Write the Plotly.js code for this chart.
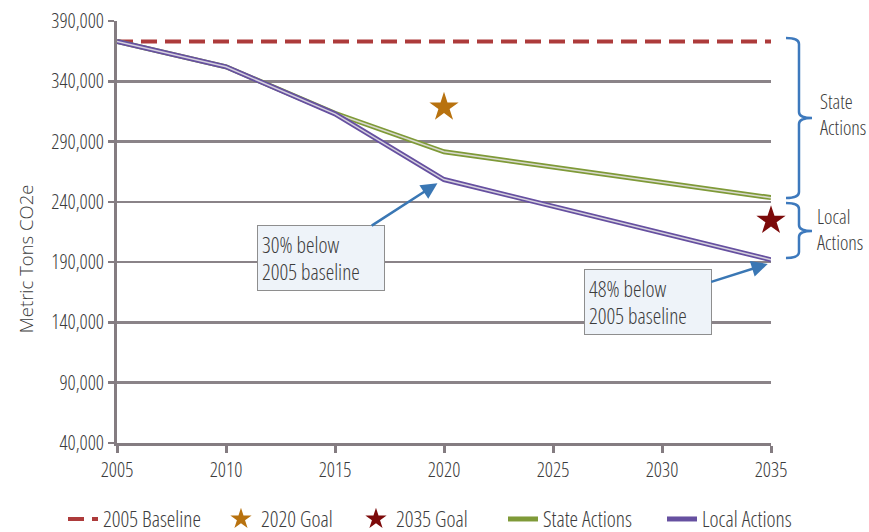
<!DOCTYPE html>
<html><head><meta charset="utf-8">
<script src="https://cdn.plot.ly/plotly-3.0.1.min.js"></script>
<style>html,body{margin:0;padding:0;background:#fff;}#chart{width:869px;height:532px;}
text{font-stretch:75% !important;}
.annotation[data-index="0"] text{font-stretch:100% !important;}</style>
</head><body><div id="chart"></div>
<script>
// ---- data ----
const years = [2005, 2010, 2015, 2020, 2025, 2030, 2035];
const baselineYears = [2005, 2035];
const baselineValues = [373000, 373000];
const stateYears = [2005, 2010, 2015, 2020, 2035];
const stateValues = [373000, 352000, 313500, 281500, 243500];
const localYears = [2005, 2010, 2015, 2020, 2035];
const localValues = [373000, 352000, 313000, 258500, 192000];
const goal2020Year = [2020];
const goal2020Value = [318500];
const goal2035Year = [2035];
const goal2035Value = [224500];
const yTicks = [40000, 90000, 140000, 190000, 240000, 290000, 340000, 390000];
const seriesNames = ['2005 Baseline', '2020 Goal', '2035 Goal', 'State Actions', 'Local Actions'];
const yTitle = 'Metric Tons CO2e';

const FONT = 'Open Sans, Roboto, sans-serif';
const TXT = '#3c3c3c';
const W = 300;

const traces = [
  {x: baselineYears, y: baselineValues, name: seriesNames[0], mode: 'lines',
   line: {color: '#ad3b3b', width: 4, dash: '16px,8px'}, legendwidth: 113},
  {x: goal2020Year, y: goal2020Value, name: seriesNames[1], mode: 'markers', cliponaxis: false,
   marker: {symbol: 'star', size: 22, color: '#b8720f'}, legendwidth: 90},
  {x: goal2035Year, y: goal2035Value, name: seriesNames[2], mode: 'markers', cliponaxis: false,
   marker: {symbol: 'star', size: 22, color: '#7c0a0a'}, legendwidth: 102},
  {x: stateYears, y: stateValues, name: seriesNames[3], mode: 'lines',
   line: {color: '#7f9a38', width: 5}, legendwidth: 114},
  {x: stateYears, y: stateValues, mode: 'lines', showlegend: false, hoverinfo: 'skip',
   line: {color: '#d9d9cf', width: 1.5}},
  {x: localYears, y: localValues, name: seriesNames[4], mode: 'lines',
   line: {color: '#6650a0', width: 5}, legendwidth: 90},
  {x: localYears, y: localValues, mode: 'lines', showlegend: false, hoverinfo: 'skip',
   line: {color: '#d6d2de', width: 1.5}}
];

// pixel -> paper helpers for decorations (plot area 117..771 x, 21..443 y)
const L = 117, R = 771, T = 21, B = 443;
const px = v => +((v - L) / (R - L)).toFixed(4);
const py = v => +((B - v) / (B - T)).toFixed(4);
function brace(x0, xs, xm, y0, ym, y1) {
  const r = 6;
  return `M ${px(x0)} ${py(y0)} Q ${px(xs)} ${py(y0)} ${px(xs)} ${py(y0 + r)} ` +
         `L ${px(xs)} ${py(ym - r)} Q ${px(xs)} ${py(ym)} ${px(xm)} ${py(ym)} ` +
         `Q ${px(xs)} ${py(ym)} ${px(xs)} ${py(ym + r)} ` +
         `L ${px(xs)} ${py(y1 - r)} Q ${px(xs)} ${py(y1)} ${px(x0)} ${py(y1)}`;
}
const boxFont = {family: FONT, size: 21.5, color: TXT, weight: W};
const sideFont = {family: FONT, size: 20, color: TXT, weight: W};

const layout = {
  width: 869, height: 532,
  margin: {l: 117, r: 98, t: 21, b: 89, autoexpand: false},
  paper_bgcolor: '#ffffff', plot_bgcolor: '#ffffff',
  font: {family: FONT, color: TXT, size: 18, weight: W},
  showlegend: true,
  legend: {orientation: 'h', x: px(63), xanchor: 'left', y: py(519), yanchor: 'middle',
           font: {family: FONT, size: 21.5, color: TXT, weight: W}, traceorder: 'normal',
           itemwidth: 30, tracegroupgap: 0, borderwidth: 0},
  xaxis: {range: [2005, 2035], tickvals: years, ticktext: years.map(String),
          showgrid: false, zeroline: false, showline: true, linecolor: '#847c81', linewidth: 3,
          ticks: 'outside', ticklen: 7, tickwidth: 3, tickcolor: '#847c81',
          tickfont: {family: FONT, size: 20, color: TXT, weight: W}},
  yaxis: {range: [40000, 390000], tickvals: yTicks, ticktext: yTicks.map(v => v.toLocaleString('en-US')),
          showgrid: true, gridcolor: '#8a8388', gridwidth: 2.5, zeroline: false,
          showline: true, linecolor: '#847c81', linewidth: 3,
          ticks: 'outside', ticklen: 6, tickwidth: 2.5, tickcolor: '#847c81',
          tickfont: {family: FONT, size: 20, color: TXT, weight: W}},
  shapes: [
    {type: 'path', xref: 'paper', yref: 'paper', path: brace(786, 799, 812, 38, 118, 198),
     line: {color: '#3d79bd', width: 2.5}},
    {type: 'path', xref: 'paper', yref: 'paper', path: brace(786, 799, 812, 203, 231, 258),
     line: {color: '#3d79bd', width: 2.5}}
  ],
  annotations: [
    {xref: 'paper', yref: 'paper', x: px(25), y: py(259), xanchor: 'center', yanchor: 'middle',
     text: yTitle, textangle: -90, showarrow: false,
     font: {family: FONT, size: 18.5, color: TXT, weight: W}},
    {xref: 'paper', yref: 'paper', x: px(818), xanchor: 'left', y: py(114), yanchor: 'middle',
     text: 'State<br>Actions', showarrow: false, align: 'left', font: sideFont},
    {xref: 'paper', yref: 'paper', x: px(815), xanchor: 'left', y: py(229), yanchor: 'middle',
     text: 'Local<br>Actions', showarrow: false, align: 'left', font: sideFont},
    {x: 2019.7, y: 255500, xref: 'x', yref: 'y', text: '30% below<br>2005 baseline',
     showarrow: true, ax: -116, ay: 75, arrowhead: 2, arrowsize: 1.3, arrowwidth: 2.5, arrowcolor: '#3a77b4',
     align: 'left', width: 118, height: 56, borderpad: 4, bgcolor: '#eef3f9', bordercolor: '#8e8e8e', borderwidth: 1,
     font: boxFont},
    {x: 2034.85, y: 188500, xref: 'x', yref: 'y', text: '48% below<br>2005 baseline',
     showarrow: true, ax: -120, ay: 38, arrowhead: 2, arrowsize: 1.3, arrowwidth: 2.5, arrowcolor: '#3a77b4',
     align: 'left', width: 118, height: 56, borderpad: 4, bgcolor: '#eef3f9', bordercolor: '#8e8e8e', borderwidth: 1,
     font: boxFont}
  ]
};

Plotly.newPlot('chart', traces, layout, {displayModeBar: false, staticPlot: true});
</script></body></html>
